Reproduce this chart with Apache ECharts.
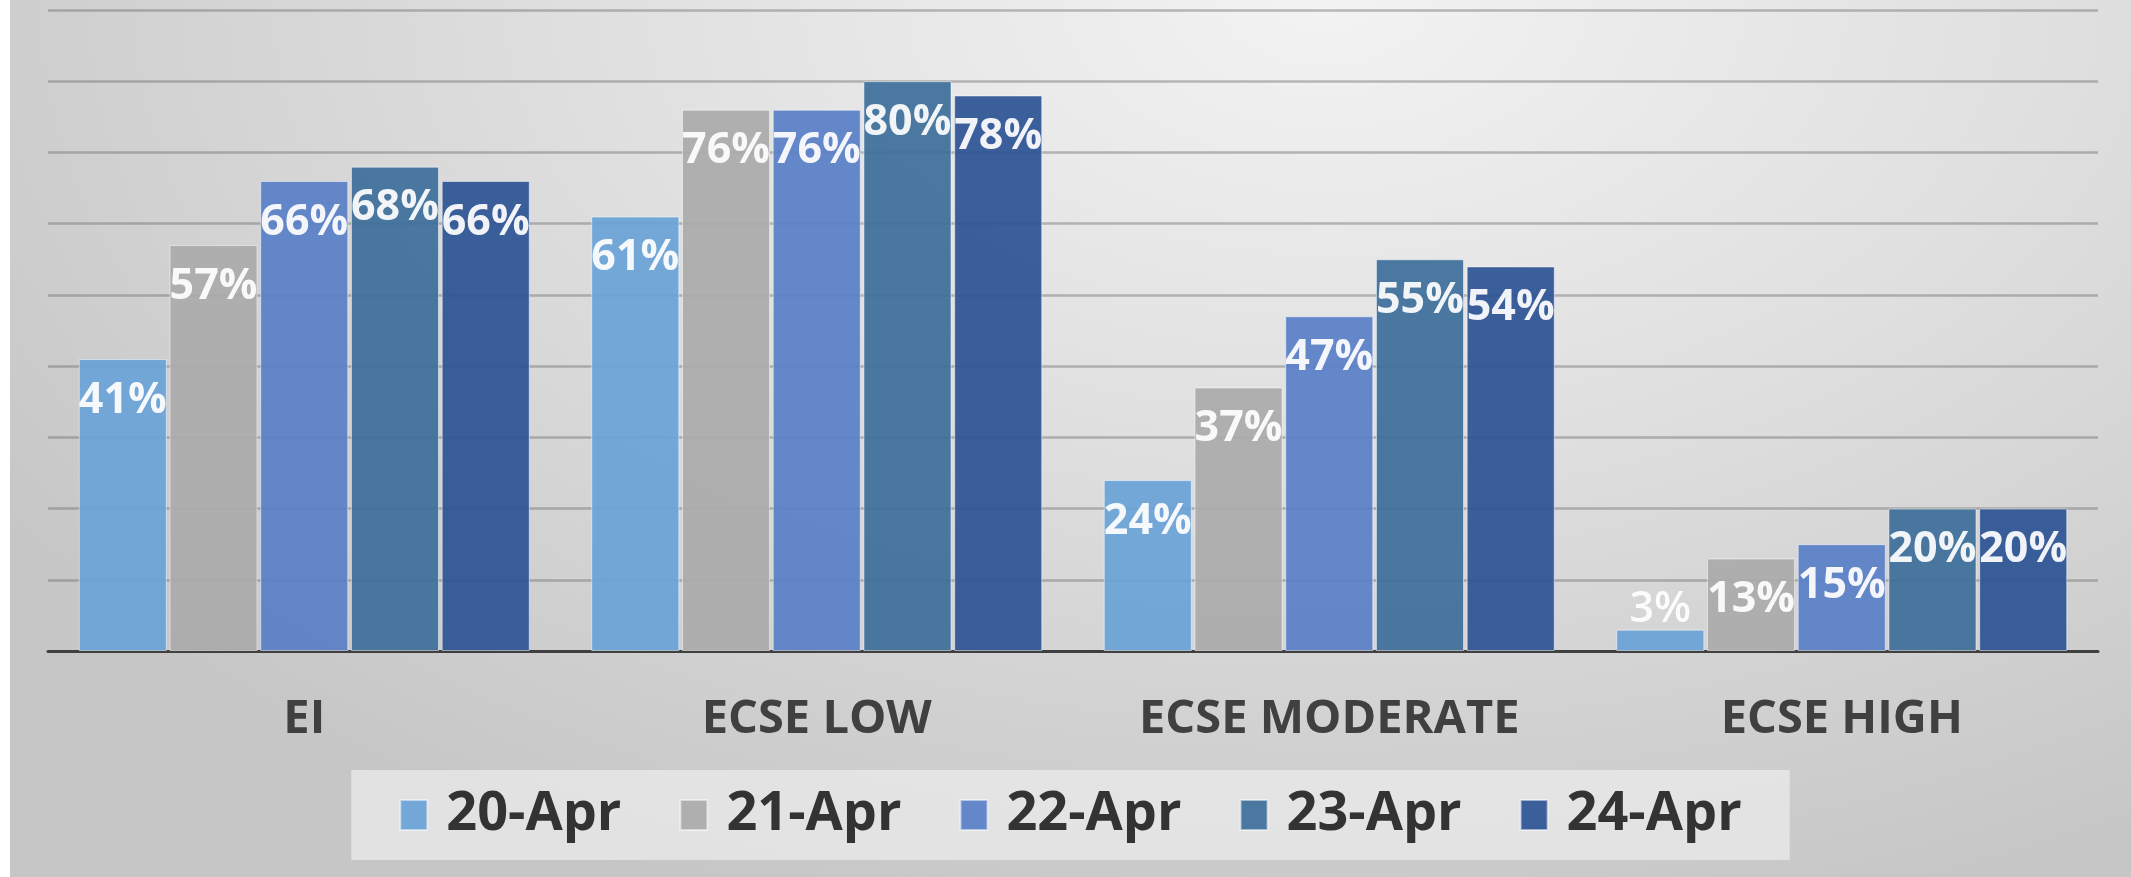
<!DOCTYPE html>
<html>
<head>
<meta charset="utf-8">
<script src="https://cdn.jsdelivr.net/npm/echarts@6/dist/echarts.min.js"></script>
<style>
  html, body { margin: 0; padding: 0; background: #ffffff; }
  #chart {
    position: absolute;
    left: 10px;
    top: 0;
    width: 2121px;
    height: 877px;
    background: radial-gradient(ellipse 75% 110% at 62% 0%, #f3f3f3 0%, #e0e0e0 45%, #c6c6c6 100%);
  }
</style>
</head>
<body>
<div id="chart"></div>
<script>
  const categories = ['EI', 'ECSE LOW', 'ECSE MODERATE', 'ECSE HIGH'];
  const dates = ['20-Apr', '21-Apr', '22-Apr', '23-Apr', '24-Apr'];
  const apr20 = [41, 61, 24, 3];
  const apr21 = [57, 76, 37, 13];
  const apr22 = [66, 76, 47, 15];
  const apr23 = [68, 80, 55, 20];
  const apr24 = [66, 78, 54, 20];
  const colors = ['#6aa3d6', '#ababab', '#5a80c8', '#3e6f9b', '#2d5495'];

  const font = '"Open Sans", "Liberation Sans", sans-serif';

  function buildSeries(name, values, color) {
    return {
      name: name,
      type: 'bar',
      barCategoryGap: '12%',
      barGap: '3%',
      itemStyle: {
        color: color,
        opacity: 0.93,
        borderColor: 'rgba(255,255,255,0.55)',
        borderWidth: 1
      },
      label: {
        show: true,
        position: 'insideTop',
        distance: 20,
        color: '#ffffff',
        fontFamily: font,
        fontWeight: 'bold',
        fontSize: 43,
        lineHeight: 43,
        formatter: (p) => p.value + '%'
      },
      // tiny bars get their label above, like the source chart
      data: values.map((v) => (v < 8 ? { value: v, label: { position: 'top', distance: -2, fontWeight: 600 } } : v))
    };
  }

  const chart = echarts.init(document.getElementById('chart'), null, { renderer: 'canvas' });

  chart.setOption({
    animation: false,
    backgroundColor: 'transparent',
    color: colors,
    grid: { left: 38, right: 33, top: 10, bottom: 226, containLabel: false },
    legend: {
      data: dates,
      left: 'center',
      top: 770,
      padding: [15, 48],
      backgroundColor: 'rgba(235,235,235,0.75)',
      itemWidth: 27,
      itemHeight: 30,
      itemGap: 58,
      icon: 'rect',
      textStyle: {
        fontFamily: font,
        fontWeight: 'bold',
        fontSize: 54,
        lineHeight: 60,
        color: '#333333',
        padding: [0, 0, 0, 14]
      }
    },
    xAxis: {
      type: 'category',
      data: categories,
      axisTick: { show: false },
      axisLine: { lineStyle: { color: '#404040', width: 3 } },
      axisLabel: {
        margin: 45,
        fontFamily: font,
        fontWeight: 'bold',
        fontSize: 47,
        lineHeight: 47,
        color: '#404040'
      }
    },
    yAxis: {
      type: 'value',
      min: 0,
      max: 90,
      interval: 10,
      axisLabel: { show: false },
      axisLine: { show: false },
      axisTick: { show: false },
      splitLine: { lineStyle: { color: 'rgba(110,110,110,0.45)', width: 2.5 } }
    },
    series: [
      buildSeries(dates[0], apr20, colors[0]),
      buildSeries(dates[1], apr21, colors[1]),
      buildSeries(dates[2], apr22, colors[2]),
      buildSeries(dates[3], apr23, colors[3]),
      buildSeries(dates[4], apr24, colors[4])
    ]
  });
</script>
</body>
</html>
